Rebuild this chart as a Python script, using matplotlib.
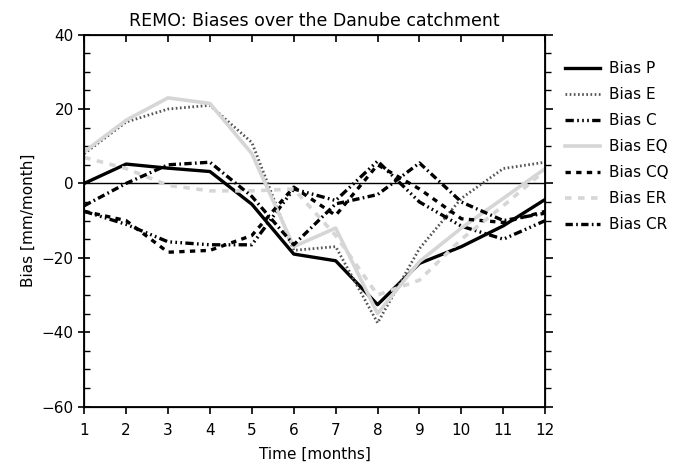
import matplotlib.pyplot as plt
import numpy as np

months = np.arange(1, 13)

# values (mm/month)
bias_p  = [0, 5.2, 4.1, 3.2, -5.6, -19, -20.8, -32.6, -21.5, -17, -11.4, -4.3]
bias_e  = [8, 16.5, 20, 21, 11, -18, -17, -37.5, -17.5, -4, 4, 5.7]
bias_c  = [-7.5, -11, -15.7, -16.5, -16.5, -1.5, -4.6, 6, -5, -11.5, -15, -10]
bias_eq = [8.5, 17, 23, 21.5, 8, -17, -12, -35, -21, -12, -4, 4]
bias_cq = [-7.5, -10, -18.5, -18, -14, -1, -8.6, 5, -1.5, -9.5, -10.5, -7.5]
bias_er = [7, 4, -0.5, -2, -2, -1.5, -14, -30, -26, -15, -6, 3.5]
bias_cr = [-6, 0, 5, 5.7, -3.5, -16.5, -5.5, -3, 5.5, -5, -10, -8]

labels = ['Bias P', 'Bias E', 'Bias C', 'Bias EQ', 'Bias CQ', 'Bias ER', 'Bias CR']

plt.rcParams['font.family'] = ['DejaVu Sans']
fig = plt.figure(figsize=(6.79, 4.62), dpi=100)
ax = fig.add_axes([0.124, 0.12, 0.679, 0.805])

lgrey = '#d6d6d6'
ax.axhline(0, color='black', lw=1.0, zorder=1)

ax.plot(months, bias_p, color='black', lw=2.4, label=labels[0])
ax.plot(months, bias_e, color='#555555', lw=2.0, dashes=(0.6, 0.9), label=labels[1])
ax.plot(months, bias_c, color='black', lw=2.4,
        dashes=(2.5, 1.0, 0.5, 1.0, 0.5, 1.0, 0.5, 1.0), label=labels[2])
ax.plot(months, bias_eq, color=lgrey, lw=2.6, label=labels[3])
ax.plot(months, bias_cq, color='black', lw=2.4, dashes=(1.6, 1.6), label=labels[4])
ax.plot(months, bias_er, color=lgrey, lw=2.6, dashes=(1.8, 1.8), label=labels[5])
ax.plot(months, bias_cr, color='black', lw=2.4, dashes=(2.2, 1.0, 0.5, 1.0), label=labels[6])

ax.set_xlim(1, 12)
ax.set_ylim(-60, 40)
ax.set_xticks(months)
ax.set_yticks(np.arange(-60, 41, 20))
ax.set_yticks(np.arange(-60, 41, 5), minor=True)

for s in ax.spines.values():
    s.set_linewidth(1.3)

ax.tick_params(axis='x', which='major', direction='out', length=5, width=1.2,
               labelsize=11, pad=7)
ax.tick_params(axis='y', which='major', direction='inout', length=8, width=1.2,
               labelsize=11)
ax.tick_params(axis='y', which='minor', direction='in', length=4, width=1.0)

# top ticks point down into the plot, right ticks point outwards
top = ax.twiny()
top.set_xlim(ax.get_xlim())
top.set_xticks(months)
top.tick_params(axis='x', direction='in', length=5, width=1.2, labeltop=False)
right = ax.twinx()
right.set_ylim(ax.get_ylim())
right.set_yticks(np.arange(-60, 41, 20))
right.set_yticks(np.arange(-60, 41, 5), minor=True)
right.tick_params(axis='y', which='major', direction='out', length=6, width=1.2,
                  labelright=False)
right.tick_params(axis='y', which='minor', direction='out', length=4, width=1.0)

ax.set_title('REMO: Biases over the Danube catchment', fontsize=12.5, pad=6)
ax.set_xlabel('Time [months]', fontsize=11, labelpad=6)
ax.set_ylabel('Bias [mm/month]', fontsize=11, labelpad=4)

ax.legend(loc='upper left', bbox_to_anchor=(1.03, 0.945), frameon=False,
          fontsize=11, handlelength=2.3, handletextpad=0.6, labelspacing=0.72,
          borderaxespad=0)

fig.savefig('out.png', dpi=100)
